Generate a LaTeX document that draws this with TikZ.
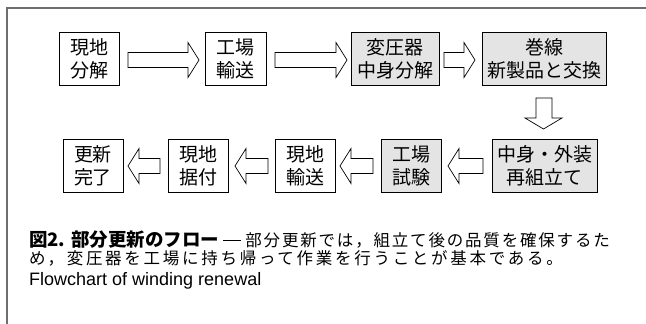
\documentclass[tikz,border=0pt]{standalone}
\usepackage{fontspec}
\setmainfont{Liberation Sans}
\newfontfamily\cjk{Noto Sans CJK JP}
\newfontfamily\cjkspacedA{Noto Sans CJK JP}[LetterSpace=11]
\newfontfamily\cjkspacedB{Noto Sans CJK JP}[LetterSpace=16.5]
\usetikzlibrary{calc}
\definecolor{framegray}{HTML}{6E6E6E}
\definecolor{boxgray}{HTML}{E4E4E4}
\tikzset{
  stepbox/.style={draw=black, line width=0.9pt, fill=white, inner sep=0pt,
    minimum height=53pt, align=center, font=\cjk\fontsize{19}{22.5}\selectfont},
  graybox/.style={stepbox, fill=boxgray},
  blockarrow/.style={draw=black, line width=0.7pt, fill=white, line join=miter},
  captext/.style={anchor=west, inner sep=0pt},
}
\newcommand{\rarr}[3]{% x1, x2, y  (tip at x2)
  \draw[blockarrow] (#1,#3-7.5) -- (#2-11,#3-7.5) -- (#2-11,#3-17.5) -- (#2,#3)
    -- (#2-11,#3+17.5) -- (#2-11,#3+7.5) -- (#1,#3+7.5) -- cycle;}
\newcommand{\larr}[3]{% x1 (tail), x2 (tip), y
  \draw[blockarrow] (#1,#3-7.5) -- (#2+11,#3-7.5) -- (#2+11,#3-17.5) -- (#2,#3)
    -- (#2+11,#3+17.5) -- (#2+11,#3+7.5) -- (#1,#3+7.5) -- cycle;}
\begin{document}
\begin{tikzpicture}[x=1pt,y=-1pt]
\useasboundingbox (0,0) rectangle (646,324);
% frame
\draw[framegray, line width=1.4pt] (7,324) |- (646,8);
% top row
\node[stepbox, minimum width=60pt] (a) at (89,59) {現地\\分解};
\node[stepbox, minimum width=61pt] (b) at (235.5,59) {工場\\輸送};
\node[graybox, minimum width=88pt] (c) at (395,59) {変圧器\\中身分解};
\node[graybox, minimum width=124pt] (d) at (544,59) {巻線\\新製品と交換};
% bottom row
\node[graybox, minimum width=105pt] (e) at (544.5,166) {中身・外装\\再組立て};
\node[graybox, minimum width=60pt] (f) at (411,166) {工場\\試験};
\node[stepbox, minimum width=60pt] (g) at (305,166) {現地\\輸送};
\node[stepbox, minimum width=60pt] (h) at (198,166) {現地\\据付};
\node[stepbox, minimum width=60pt] (i) at (93,166) {更新\\完了};
% arrows top (a->b, b->c, c->d)
\rarr{128}{199}{60}
\rarr{275}{347}{60}
\rarr{444}{475}{60}
% down arrow (d->e)
\draw[blockarrow] (536,98) -- (552,98) -- (552,118) -- (562,118) -- (543.5,129)
  -- (525,118) -- (536,118) -- cycle;
% arrows bottom (e->f, f->g, g->h, h->i)
\larr{483}{448}{166}
\larr{373}{340}{166}
\larr{268}{235}{166}
\larr{160}{128}{166}
% caption
\node[captext] (cap1) at (29,240) {\cjk\bfseries\fontsize{18.5}{20}\selectfont 図2. 部分更新のフロー\mdseries\ \raisebox{0.32em}{\rule{18pt}{0.9pt}}\ \cjkspacedA\fontsize{16.5}{20}\selectfont 部分更新では，組立て後の品質を確保するた};
\node[captext, font=\cjkspacedB\fontsize{16.5}{20}\selectfont] (cap2) at (29,258.5) {め，変圧器を工場に持ち帰って作業を行うことが基本である。};
\node[captext, font=\fontsize{18}{20}\selectfont] (cap3) at (29,281) {Flowchart of winding renewal};
\end{tikzpicture}
\end{document}
